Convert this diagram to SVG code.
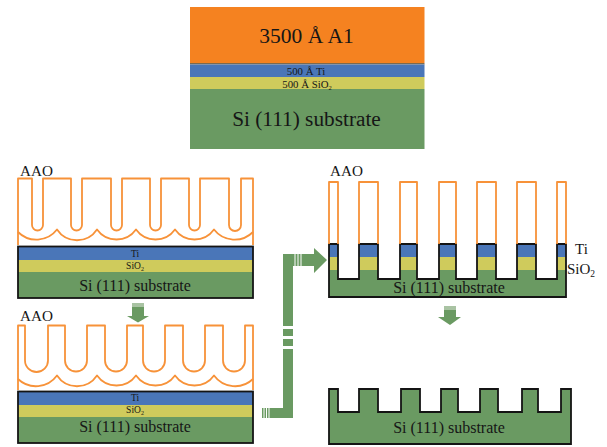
<svg xmlns="http://www.w3.org/2000/svg" width="607" height="447" viewBox="0 0 607 447">
<style>
text{font-family:"Liberation Serif","Times New Roman",serif;fill:#161616}
.m{text-anchor:middle}
.o{fill:#f58220}.b{fill:#4a76b8}.y{fill:#cfcb5c}.g{fill:#6a9a62}
.al{fill:none;stroke:#f79239;stroke-width:1.8;stroke-linejoin:round}
.bk{fill:none;stroke:#141414;stroke-width:1.8;stroke-linejoin:miter}
.s9{font-size:9.5px}.s15{font-size:15.2px}.s16{font-size:16px}
.ar{fill:#6a9a62}.st{stroke:#fff;stroke-width:1;fill:none}
</style>
<rect width="607" height="447" fill="#fff"/>
<g id="initial-stack">
<rect class="o" x="190" y="7" width="234.500" height="56"/>
<rect x="190" y="63" width="234.500" height="1.500" fill="#7a6a50"/>
<rect class="b" x="190" y="64.500" width="234.500" height="12.500"/>
<rect class="y" x="190" y="77" width="234.500" height="12"/>
<rect class="g" x="190" y="89" width="234.500" height="60"/>
<text class="m" x="306.500" y="43" font-size="21.500">3500 Å A1</text>
<text class="m" x="306" y="75" font-size="10.800">500 Å Ti</text>
<text class="m" x="307" y="87.500" font-size="10.800">500 Å SiO<tspan font-size="6.500" dy="2">2</tspan></text>
<text class="m" x="306.500" y="126" font-size="21.300">Si (111) substrate</text>
</g>
<g id="panel-thin-aao">
<rect class="b" x="18" y="246" width="235" height="14"/>
<rect class="y" x="18" y="260" width="235" height="12"/>
<rect class="g" x="18" y="272" width="235" height="26"/>
<rect class="bk" x="18" y="246.500" width="235" height="51.500"/>
<path class="al" d="M18 245V178.500H32V225A5.500 5.500 0 0 0 43 225V178.500H71V225A5.500 5.500 0 0 0 82 225V178.500H111V225A5.500 5.500 0 0 0 122 225V178.500H150V225A5.500 5.500 0 0 0 161 225V178.500H189V225A5.500 5.500 0 0 0 200 225V178.500H229V225A6 6 0 0 0 241 225V178.500H253V245"/>
<path class="al" d="M18 232A26 26 0 0 0 57 229.500A24 24 0 0 0 97 229.500A24 24 0 0 0 136 229.500A24 24 0 0 0 175 229.500A24 24 0 0 0 214 229.500A26 26 0 0 0 253 232"/>
<text x="20" y="176" class="s15">AAO</text>
<text class="m s9" x="135" y="256.500">Ti</text>
<text class="m s9" x="135" y="269">SiO<tspan font-size="6" dy="2">2</tspan></text>
<text class="m s16" x="135" y="291">Si (111) substrate</text>
</g>
<g id="panel-wide-pores">
<rect class="b" x="18" y="391" width="235" height="14"/>
<rect class="y" x="18" y="405" width="235" height="12"/>
<rect class="g" x="18" y="417" width="235" height="26"/>
<rect class="bk" x="18" y="391.500" width="235" height="51.500"/>
<path class="al" d="M18 390V325.500H25V360.500A11.500 11.500 0 0 0 48 360.500V325.500H65V360.500A11 11 0 0 0 87 360.500V325.500H105V360.500A11 11 0 0 0 127 360.500V325.500H143V360.500A11 11 0 0 0 165 360.500V325.500H183V360.500A11 11 0 0 0 205 360.500V325.500H223V360.500A11 11 0 0 0 245 360.500V325.500H253V390"/>
<path class="al" d="M18 379A26 26 0 0 0 57 375.500A24 24 0 0 0 97 375.500A24 24 0 0 0 136 375.500A24 24 0 0 0 175 375.500A24 24 0 0 0 214 375.500A26 26 0 0 0 253 379"/>
<text x="20" y="321" class="s15">AAO</text>
<text class="m s9" x="135" y="400.500">Ti</text>
<text class="m s9" x="135" y="413">SiO<tspan font-size="6" dy="2">2</tspan></text>
<text class="m s16" x="135" y="432">Si (111) substrate</text>
</g>
<g id="panel-etched">
<path class="g" d="M329 270H338V279H359V270H378V279H400V270H417V279H439V270H456V279H477V270H496V279H517V270H536V279H557V270H566V297H329Z"/>
<path class="y" d="M329 257H338V270H329ZM359 257H378V270H359ZM400 257H417V270H400ZM439 257H456V270H439ZM477 257H496V270H477ZM517 257H536V270H517ZM557 257H566V270H557Z"/>
<path class="b" d="M329 244H338V257H329ZM359 244H378V257H359ZM400 244H417V257H400ZM439 244H456V257H439ZM477 244H496V257H477ZM517 244H536V257H517ZM557 244H566V257H557Z"/>
<path class="bk" d="M329 244H338V279H359V244H378V279H400V244H417V279H439V244H456V279H477V244H496V279H517V244H536V279H557V244H566V297H329Z"/>
<path class="al" d="M329 244V182H338V244M359 244V182H378V244M400 244V182H417V244M439 244V182H456V244M477 244V182H496V244M517 244V182H536V244M557 244V182H566V244"/>
<text x="330" y="176" class="s15">AAO</text>
<text x="575" y="254" font-size="15">Ti</text>
<text x="567" y="274" font-size="15">SiO<tspan font-size="9.500" dy="3">2</tspan></text>
<text class="m s16" x="449" y="293">Si (111) substrate</text>
</g>
<g id="panel-final">
<path class="bk" style="fill:#6a9a62" d="M329 389H338V412H359V389H378V412H401V389H420V412H441V389H458V412H480V389H498V412H522V389H538V412H561V389H571V444H329Z"/>
<text class="m s16" x="449" y="433">Si (111) substrate</text>
</g>
<g id="connectors">
<path class="ar" d="M132 303H144V316H149L138 322.500L127 316H132Z"/>
<rect x="132" y="303" width="12" height="4" fill="#a9c3a3"/>
<path class="ar" d="M444 306H456V317H461L450 325L438 317H444Z"/>
<rect x="444" y="306" width="12" height="4" fill="#a9c3a3"/>
<path class="ar" d="M283 254H314V248L327 260L314 273V266H293V326H283Z"/>
<path class="ar" d="M283 329H293V336H283ZM283 339H293V346H283ZM262 408H283V349H293V418H262Z"/>
<path class="st" d="M295 254V266M298 254V266M301 254V266M264 408V418M266.500 408V418M269 408V418"/>
</g>
</svg>
